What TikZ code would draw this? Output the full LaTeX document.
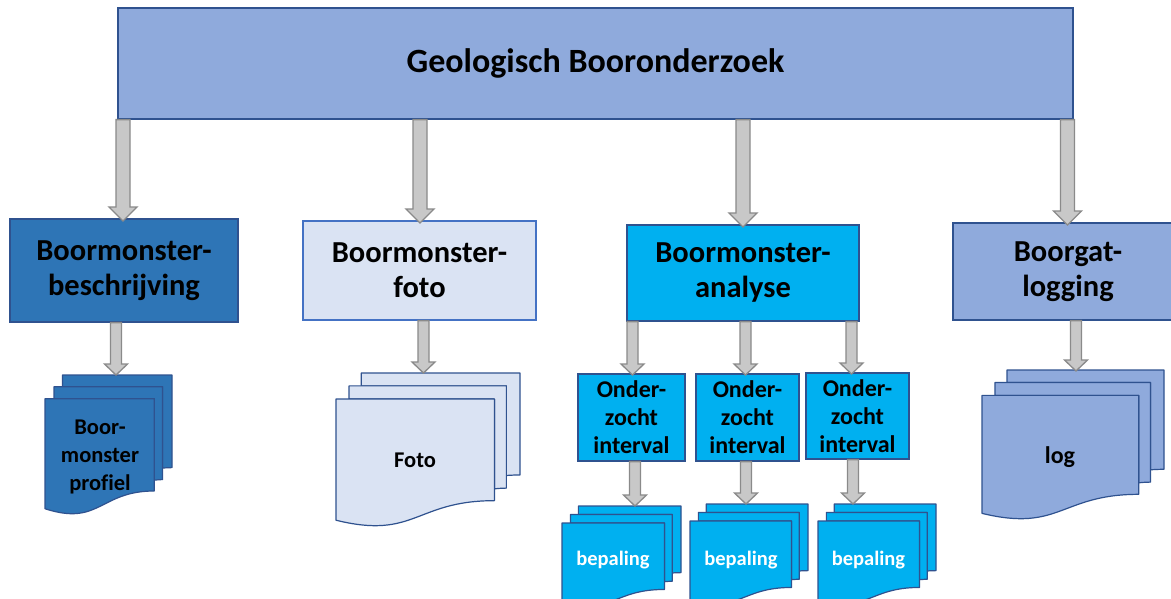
\documentclass[tikz,border=0pt]{standalone}
\usepackage{fontspec}
\setmainfont[Ligatures=NoCommon]{Carlito}
\usetikzlibrary{calc}

\definecolor{titlefill}{HTML}{8FAADC}
\definecolor{edgeblue}{HTML}{2F528F}
\definecolor{descfill}{HTML}{2E75B6}
\definecolor{fotofill}{HTML}{DAE3F3}
\definecolor{fotoedge}{HTML}{4472C4}
\definecolor{anafill}{HTML}{00B0F0}
\definecolor{arrowfill}{HTML}{C8C8C8}
\definecolor{arrowedge}{HTML}{8A8A8A}

\tikzset{
  box/.style={draw=edgeblue, line width=1.2pt, inner sep=0pt, align=center, font=\bfseries},
  bigtext/.style={font=\fontsize{30.5}{35}\selectfont\bfseries},
  smalltext/.style={font=\fontsize{24}{28}\selectfont\bfseries},
  doctext/.style={inner sep=0pt, align=center},
  blockarrow/.style={draw=arrowedge, fill=arrowfill, line width=1.3pt, line join=miter},
  pagestyle/.style={draw=edgeblue, line width=1.2pt, line join=round}
}

% vertical block arrow: #1 source node, #2 tip coordinate,
% #3 half shaft width, #4 half head width, #5 head length
\newcommand{\blkarrow}[5]{%
  \draw[blockarrow] let \p1=(#2), \p2=(#2 |- #1.south) in
    (\x1-#3pt,\y2) -- (\x1+#3pt,\y2) -- (\x1+#3pt,\y1+#5pt) -- (\x1+#4pt,\y1+#5pt)
    -- (\x1,\y1) -- (\x1-#4pt,\y1+#5pt) -- (\x1-#3pt,\y1+#5pt) -- cycle;}

% stack of three pages: #1 fill, #2 left, #3 top, #4 width, #5 height
\newcommand{\pagestack}[5]{%
  \begin{scope}[shift={(#2,#3)}, x=#4pt, y=-#5pt]
    \filldraw[pagestyle, fill=#1] (0.13759,0.08403) -- (0.13759,0) -- (1,0) -- (1,0.66630)
      .. controls (0.96296,0.66630) and (0.92593,0.66977) .. (0.92593,0.66977)
      -- (0.92593,0.08403) -- cycle;
    \filldraw[pagestyle, fill=#1] (0.07093,0.17014) -- (0.07093,0.08403) -- (0.92593,0.08403)
      -- (0.92593,0.75241) .. controls (0.89343,0.75241) and (0.86088,0.75704) .. (0.86088,0.75704)
      -- (0.86088,0.17014) -- cycle;
    \filldraw[pagestyle, fill=#1] (0,0.96213)
      .. controls (0.43046,1.08991) and (0.43046,0.83435) .. (0.86088,0.83435)
      -- (0.86088,0.17014) -- (0,0.17014) -- cycle;
  \end{scope}}

\begin{document}
\begin{tikzpicture}[x=1pt, y=-1pt]
  \clip (0,0) rectangle (1171,598);
  \fill[white] (0,0) rectangle (1171,598);

  % main heading
  \node[box, fill=titlefill, minimum width=955pt, minimum height=111pt,
        font=\fontsize{34}{40}\selectfont\bfseries] (top) at (595.5,63.5) {Geologisch Booronderzoek};

  % second level
  \node[box, bigtext, fill=descfill, minimum width=228pt, minimum height=103pt]
    (desc) at (124,270.5) {Boormonster-\\beschrijving};
  \node[box, bigtext, draw=fotoedge, fill=fotofill, minimum width=233pt, minimum height=99pt]
    (foto) at (419.5,270.5) {Boormonster-\\foto};
  \node[box, bigtext, fill=anafill, minimum width=232pt, minimum height=96pt]
    (ana) at (743,273) {Boormonster-\\analyse};
  \node[box, bigtext, fill=titlefill, minimum width=230pt, minimum height=97pt]
    (log) at (1068,271.5) {Boorgat-\\logging};

  % sampled intervals
  \node[box, smalltext, fill=anafill, minimum width=107pt, minimum height=87pt]
    (intA) at (631.5,417.5) {Onder-\\zocht\\interval};
  \node[box, smalltext, fill=anafill, minimum width=103pt, minimum height=87pt]
    (intB) at (747.5,417.5) {Onder-\\zocht\\interval};
  \node[box, smalltext, fill=anafill, minimum width=103pt, minimum height=86pt]
    (intC) at (857.5,416) {Onder-\\zocht\\interval};

  % document stacks
  \pagestack{descfill}{45}{375}{127}{139}
  \node[doctext, font=\fontsize{22.5}{28}\selectfont\bfseries] (profiel) at (100,457) {Boor-\\monster\\profiel};
  \pagestack{fotofill}{336}{373}{184}{153}
  \node[doctext, font=\fontsize{22.5}{27}\selectfont\bfseries] (fotodoc) at (415,460) {Foto};
  \pagestack{titlefill}{982}{370}{182}{149}
  \node[doctext, font=\fontsize{24}{29}\selectfont\bfseries] (logdoc) at (1060,457) {log};
  \pagestack{anafill}{562}{506}{119}{100}
  \node[doctext, text=white, font=\fontsize{20.5}{25}\selectfont\bfseries] (bepA) at (613,560) {bepaling};
  \pagestack{anafill}{690}{504}{118}{100}
  \node[doctext, text=white, font=\fontsize{20.5}{25}\selectfont\bfseries] (bepB) at (741,560) {bepaling};
  \pagestack{anafill}{818}{504}{118}{100}
  \node[doctext, text=white, font=\fontsize{20.5}{25}\selectfont\bfseries] (bepC) at (868.5,560) {bepaling};

  % arrow tips
  \coordinate (tDesc) at (123,221);
  \coordinate (tFoto) at (420,223);
  \coordinate (tAna) at (743,227);
  \coordinate (tLog) at (1067.5,225);
  \coordinate (tProfiel) at (116,375);
  \coordinate (tFotodoc) at (423.5,373);
  \coordinate (tLogdoc) at (1076,371);
  \coordinate (tIntA) at (632.5,375);
  \coordinate (tIntB) at (745.5,375);
  \coordinate (tIntC) at (851.5,374);
  \coordinate (tBepA) at (635,506);
  \coordinate (tBepB) at (746,504);
  \coordinate (tBepC) at (853,504);

  % connectors
  \blkarrow{top}{tDesc}{7}{14}{14}
  \blkarrow{top}{tFoto}{7}{14}{14}
  \blkarrow{top}{tAna}{7}{14}{14}
  \blkarrow{top}{tLog}{7}{14}{14}
  \blkarrow{desc}{tProfiel}{5.5}{11.5}{11}
  \blkarrow{foto}{tFotodoc}{5.5}{11.5}{11}
  \blkarrow{log}{tLogdoc}{5.5}{11.5}{11}
  \blkarrow{ana}{tIntA}{5.5}{11.5}{11}
  \blkarrow{ana}{tIntB}{5.5}{11.5}{11}
  \blkarrow{ana}{tIntC}{5.5}{11.5}{11}
  \blkarrow{intA}{tBepA}{5.5}{11.5}{11}
  \blkarrow{intB}{tBepB}{5.5}{11.5}{11}
  \blkarrow{intC}{tBepC}{5.5}{11.5}{11}
\end{tikzpicture}
\end{document}
